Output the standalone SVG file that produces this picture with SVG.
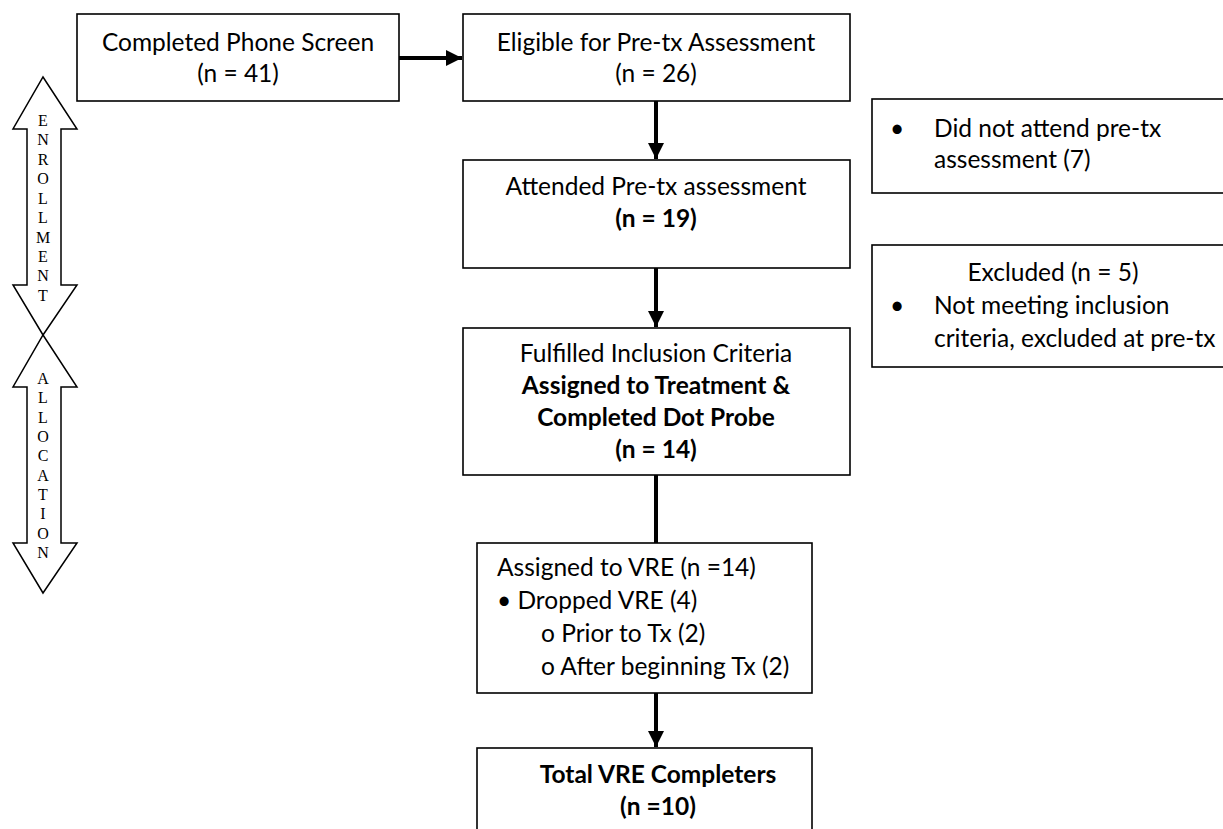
<svg xmlns="http://www.w3.org/2000/svg" width="1223" height="829" viewBox="0 0 1223 829">
<style>
.box{fill:#fff;stroke:#000;stroke-width:1.6}
.t{font-family:Lato,"Liberation Sans",sans-serif;font-size:24.5px;fill:#000}
.c{text-anchor:middle}
.b{font-weight:bold}
.side{fill:#fff;stroke:#000;stroke-width:1.5;stroke-linejoin:miter}
.lt{font-family:"Liberation Serif",serif;font-size:16px;text-anchor:middle;fill:#000}
.con{stroke:#000;stroke-width:4;fill:none}
</style>
<defs>
<marker id="ah" viewBox="0 0 10 10" refX="10" refY="5" markerWidth="4" markerHeight="4" orient="auto" markerUnits="strokeWidth">
<path d="M0,0 L10,5 L0,10 z" fill="#000"/>
</marker>
</defs>
<rect width="1223" height="829" fill="#fff"/>

<g id="enrollment-arrow">
<path class="side" d="M43,77 L77,129 L61,129 L61,285 L77,285 L43,335 L13,285 L27,285 L27,129 L13,129 Z"/>
<text class="lt" x="43" y="126">E</text>
<text class="lt" x="43" y="145">N</text>
<text class="lt" x="43" y="165">R</text>
<text class="lt" x="43" y="184">O</text>
<text class="lt" x="43" y="204">L</text>
<text class="lt" x="43" y="223">L</text>
<text class="lt" x="43" y="243">M</text>
<text class="lt" x="43" y="262">E</text>
<text class="lt" x="43" y="281">N</text>
<text class="lt" x="43" y="301">T</text>
</g>
<g id="allocation-arrow">
<path class="side" d="M43,335 L77,387 L61,387 L61,543 L77,543 L43,593 L13,543 L27,543 L27,387 L13,387 Z"/>
<text class="lt" x="43" y="384">A</text>
<text class="lt" x="43" y="403">L</text>
<text class="lt" x="43" y="423">L</text>
<text class="lt" x="43" y="442">O</text>
<text class="lt" x="43" y="461">C</text>
<text class="lt" x="43" y="481">A</text>
<text class="lt" x="43" y="500">T</text>
<text class="lt" x="43" y="519">I</text>
<text class="lt" x="43" y="539">O</text>
<text class="lt" x="43" y="558">N</text>
</g>

<g id="connectors">
<line class="con" x1="399" y1="58" x2="462" y2="58" marker-end="url(#ah)"/>
<line class="con" x1="656" y1="101" x2="656" y2="159" marker-end="url(#ah)"/>
<line class="con" x1="656" y1="268" x2="656" y2="327" marker-end="url(#ah)"/>
<line class="con" x1="656" y1="475" x2="656" y2="543"/>
<line class="con" x1="656" y1="693" x2="656" y2="747" marker-end="url(#ah)"/>
</g>

<g id="phone-screen">
<rect class="box" x="77" y="14" width="322" height="87"/>
<text class="t c" x="238" y="51">Completed Phone Screen</text>
<text class="t c" x="238" y="82">(n = 41)</text>
</g>
<g id="eligible">
<rect class="box" x="463" y="14" width="387" height="87"/>
<text class="t c" x="656" y="51">Eligible for Pre-tx Assessment</text>
<text class="t c" x="656" y="82">(n = 26)</text>
</g>
<g id="attended">
<rect class="box" x="463" y="160" width="387" height="108"/>
<text class="t c" x="656" y="195">Attended Pre-tx assessment</text>
<text class="t c b" x="656" y="227">(n = 19)</text>
</g>
<g id="fulfilled">
<rect class="box" x="463" y="328" width="387" height="147"/>
<text class="t c" x="656" y="362">Fulfilled Inclusion Criteria</text>
<text class="t c b" x="656" y="394">Assigned to Treatment &amp;</text>
<text class="t c b" x="656" y="426">Completed Dot Probe</text>
<text class="t c b" x="656" y="458">(n = 14)</text>
</g>
<g id="assigned-vre">
<rect class="box" x="477" y="543" width="335" height="150"/>
<text class="t" x="497" y="576">Assigned to VRE (n =14)</text>
<text class="t" x="497" y="609">• Dropped VRE (4)</text>
<text class="t" x="541" y="642">o Prior to Tx (2)</text>
<text class="t" x="541" y="675">o After beginning Tx (2)</text>
</g>
<g id="completers">
<rect class="box" x="477" y="748" width="335" height="100"/>
<text class="t c b" x="658" y="783">Total VRE Completers</text>
<text class="t c b" x="658" y="815">(n =10)</text>
</g>
<g id="did-not-attend">
<rect class="box" x="872" y="99" width="360" height="94"/>
<text class="t" x="890" y="137">•</text>
<text class="t" x="934" y="137">Did not attend pre-tx</text>
<text class="t" x="934" y="168">assessment (7)</text>
</g>
<g id="excluded">
<rect class="box" x="872" y="245" width="360" height="122"/>
<text class="t c" x="1053" y="281">Excluded (n = 5)</text>
<text class="t" x="890" y="314">•</text>
<text class="t" x="934" y="314">Not meeting inclusion</text>
<text class="t" x="934" y="347">criteria, excluded at pre-tx</text>
</g>
</svg>
